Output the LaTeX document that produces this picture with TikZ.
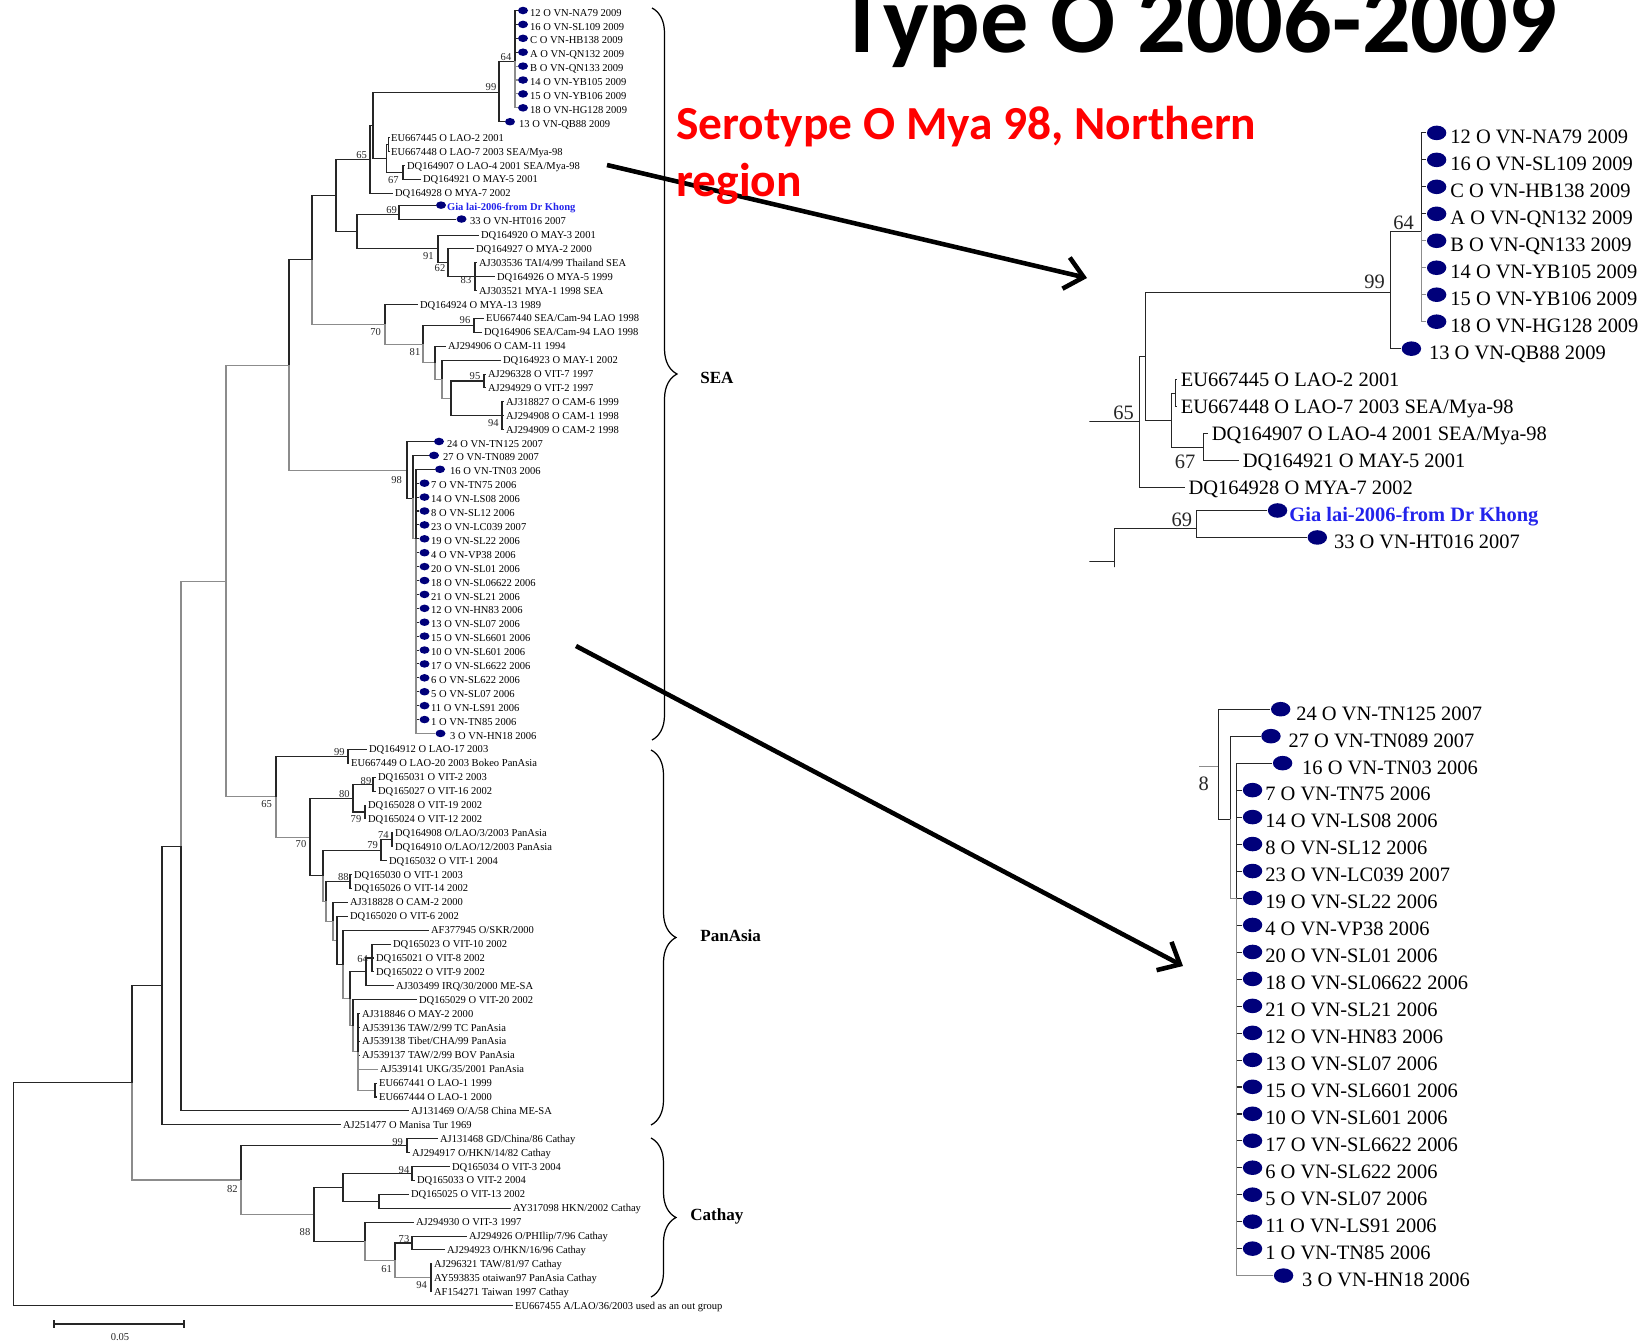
\documentclass[tikz,border=0pt]{standalone}
\usepackage{fontspec}
\setmainfont{Liberation Serif}
\newfontfamily\calibri{Carlito}
\usetikzlibrary{shapes.geometric,arrows.meta,decorations.pathreplacing}

\definecolor{tipblue}{RGB}{0,0,122}
\definecolor{khongblue}{RGB}{35,35,235}
\newcommand\leaffont{\fontsize{6}{7}\selectfont}

\tikzset{
  branch/.style={draw=black!85, line width=0.6pt},
  faint/.style={draw=black!45, line width=0.6pt},
  leaf/.style={anchor=west, inner xsep=1pt, inner ysep=0pt, text height=4pt, text depth=0pt, font=\leaffont},
  boot/.style={inner sep=0pt, font=\leaffont, text=black!85},
  dot/.style={ellipse, fill=tipblue, inner sep=0pt, minimum width=0.2cm, minimum height=0.15cm},
  cladebrace/.style={draw, line width=0.7pt, decorate, decoration={brace, amplitude=0.5cm}},
  cladename/.style={anchor=west, inner sep=0pt, font=\bfseries\fontsize{9.7}{11}\selectfont},
  pointer/.style={line width=2.6pt, -{Straight Barb[length=0.36cm, width=0.64cm]}},
}

% inner nodes of the tree, x in pixels, y in leaf rows
\newcommand\treenodes{%
  \coordinate (root) at (13.3,84.98);
  \coordinate (r1) at (132,76.97);
  \coordinate (r2) at (162,69.97);
  \coordinate (r3) at (181,59.95);
  \coordinate (s0) at (226,40.89);
  \coordinate (s1) at (289,25.38);
  \coordinate (p0) at (312,17.79);
  \coordinate (p1) at (336,13.16);
  \coordinate (n65) at (370,10.56);
  \coordinate (na) at (373,8.125);
  \coordinate (n99) at (499,5.75);
  \coordinate (n64) at (515,3.5);
  \coordinate (nl) at (386.5,10.5);
  \coordinate (neu) at (388.5,9.5);
  \coordinate (n67) at (403,11.5);
  \coordinate (p2) at (357,15.75);
  \coordinate (n69) at (399,14.5);
  \coordinate (n91) at (438,17);
  \coordinate (n62) at (448,18);
  \coordinate (n83) at (475,19);
  \coordinate (n70) at (385,22.42);
  \coordinate (n96) at (474,22.5);
  \coordinate (n81) at (423,23.84);
  \coordinate (q1) at (435,25.19);
  \coordinate (q2) at (442,26.375);
  \coordinate (q3) at (451,27.75);
  \coordinate (n95) at (484,26.5);
  \coordinate (n94) at (502,29);
  \coordinate (n98) at (407,32.97);
  \coordinate (v1) at (413,34.93);
  \coordinate (v2) at (416,37.86);
  \coordinate (pa65) at (276,56.4);
  \coordinate (pa99) at (348,53.5);
  \coordinate (pa70) at (310,59.3);
  \coordinate (pa80) at (353,56.5);
  \coordinate (pa89) at (373,55.5);
  \coordinate (pa79) at (365,57.5);
  \coordinate (u4) at (323,62.09);
  \coordinate (pa79b) at (381,60.25);
  \coordinate (pa74) at (392,59.5);
  \coordinate (u5) at (326,63.93);
  \coordinate (pa88) at (350,62.5);
  \coordinate (u6) at (333,65.37);
  \coordinate (u7) at (337,66.73);
  \coordinate (u8) at (343,68.47);
  \coordinate (u9) at (350,70.94);
  \coordinate (u10) at (366,69);
  \coordinate (pa64) at (372,68);
  \coordinate (u11) at (353,72.875);
  \coordinate (u12) at (358,74.75);
  \coordinate (lao) at (375,77.5);
  \coordinate (ca82) at (241,83.97);
  \coordinate (ca99) at (407,81.5);
  \coordinate (ca88) at (314,86.44);
  \coordinate (cn1) at (343,84.5);
  \coordinate (ca94) at (412,83.5);
  \coordinate (cn2) at (379,85.5);
  \coordinate (cn3) at (365,88.375);
  \coordinate (ca61) at (395,89.75);
  \coordinate (ca73) at (412,88.5);
  \coordinate (ca94b) at (431,91);
}

% Mya-98 group at the top of SEA
\newcommand\seatop{%
  \node[dot] (d0) at (523,-0.15) {}; \node[leaf] (l0) at (528,0) {12 O VN-NA79 2009};
  \node[dot] (d1) at (523,0.85) {}; \node[leaf] (l1) at (528,1) {16 O VN-SL109 2009};
  \node[dot] (d2) at (523,1.85) {}; \node[leaf] (l2) at (528,2) {C O VN-HB138 2009};
  \node[dot] (d3) at (523,2.85) {}; \node[leaf] (l3) at (528,3) {A O VN-QN132 2009};
  \node[dot] (d4) at (523,3.85) {}; \node[leaf] (l4) at (528,4) {B O VN-QN133 2009};
  \node[dot] (d5) at (523,4.85) {}; \node[leaf] (l5) at (528,5) {14 O VN-YB105 2009};
  \node[dot] (d6) at (523,5.85) {}; \node[leaf] (l6) at (528,6) {15 O VN-YB106 2009};
  \node[dot] (d7) at (523,6.85) {}; \node[leaf] (l7) at (528,7) {18 O VN-HG128 2009};
  \node[dot] (d8) at (510,7.85) {}; \node[leaf] (l8) at (517,8) {13 O VN-QB88 2009};
  \node[leaf] (l9) at (389,9) {EU667445 O LAO-2 2001};
  \node[leaf] (l10) at (389,10) {EU667448 O LAO-7 2003 SEA/Mya-98};
  \node[leaf] (l11) at (405,11) {DQ164907 O LAO-4 2001 SEA/Mya-98};
  \node[leaf] (l12) at (421,12) {DQ164921 O MAY-5 2001};
  \node[leaf] (l13) at (393,13) {DQ164928 O MYA-7 2002};
  \node[dot] (d14) at (441,13.85) {}; \node[leaf, text=khongblue, font=\leaffont\bfseries] (l14) at (445,14) {Gia lai-2006-from Dr Khong};
  \node[dot] (d15) at (461.5,14.85) {}; \node[leaf] (l15) at (468,15) {33 O VN-HT016 2007};
  \draw[branch] (p1) |- (n65) (p1) |- (p2);
  \draw[branch] (n65) |- (na) (n65) |- (l13);
  \draw[branch] (na) |- (n99) (na) |- (nl);
  \draw[branch] (n99) |- (n64) (n99) |- (d8);
  \draw[branch] (n64) |- (d0) (n64) |- (d1) (n64) |- (d2) (n64) |- (d3);
  \draw[faint] (n64) |- (d4) (n64) |- (d5) (n64) |- (d6) (n64) |- (d7);
  \draw[branch] (nl) |- (neu) (nl) |- (n67);
  \draw[branch] (neu) |- (l9) (neu) |- (l10);
  \draw[branch] (n67) |- (l11) (n67) |- (l12);
  \draw[branch] (p2) |- (n69) (p2) |- (n91);
  \draw[branch] (n69) |- (d14) (n69) |- (d15);
  \node[boot] (bn64) at (506,3.17) {64};
  \node[boot] (bn99) at (491,5.37) {99};
  \node[boot] (bn65) at (361.7,10.24) {65};
  \node[boot] (bn67) at (393.3,12.04) {67};
  \node[boot] (bn69) at (391.7,14.2) {69};
}

% Vietnam 2006-2007 group
\newcommand\seavn{%
  \node[dot] (d31) at (439,30.85) {}; \node[leaf] (l31) at (445,31) {24 O VN-TN125 2007};
  \node[dot] (d32) at (434,31.85) {}; \node[leaf] (l32) at (441,32) {27 O VN-TN089 2007};
  \node[dot] (d33) at (440,32.85) {}; \node[leaf] (l33) at (448,33) {16 O VN-TN03 2006};
  \node[dot] (d34) at (424.5,33.85) {}; \node[leaf] (l34) at (429,34) {7 O VN-TN75 2006};
  \node[dot] (d35) at (424.5,34.85) {}; \node[leaf] (l35) at (429,35) {14 O VN-LS08 2006};
  \node[dot] (d36) at (424.5,35.85) {}; \node[leaf] (l36) at (429,36) {8 O VN-SL12 2006};
  \node[dot] (d37) at (424.5,36.85) {}; \node[leaf] (l37) at (429,37) {23 O VN-LC039 2007};
  \node[dot] (d38) at (424.5,37.85) {}; \node[leaf] (l38) at (429,38) {19 O VN-SL22 2006};
  \node[dot] (d39) at (424.5,38.85) {}; \node[leaf] (l39) at (429,39) {4 O VN-VP38 2006};
  \node[dot] (d40) at (424.5,39.85) {}; \node[leaf] (l40) at (429,40) {20 O VN-SL01 2006};
  \node[dot] (d41) at (424.5,40.85) {}; \node[leaf] (l41) at (429,41) {18 O VN-SL06622 2006};
  \node[dot] (d42) at (424.5,41.85) {}; \node[leaf] (l42) at (429,42) {21 O VN-SL21 2006};
  \node[dot] (d43) at (424.5,42.85) {}; \node[leaf] (l43) at (429,43) {12 O VN-HN83 2006};
  \node[dot] (d44) at (424.5,43.85) {}; \node[leaf] (l44) at (429,44) {13 O VN-SL07 2006};
  \node[dot] (d45) at (424.5,44.85) {}; \node[leaf] (l45) at (429,45) {15 O VN-SL6601 2006};
  \node[dot] (d46) at (424.5,45.85) {}; \node[leaf] (l46) at (429,46) {10 O VN-SL601 2006};
  \node[dot] (d47) at (424.5,46.85) {}; \node[leaf] (l47) at (429,47) {17 O VN-SL6622 2006};
  \node[dot] (d48) at (424.5,47.85) {}; \node[leaf] (l48) at (429,48) {6 O VN-SL622 2006};
  \node[dot] (d49) at (424.5,48.85) {}; \node[leaf] (l49) at (429,49) {5 O VN-SL07 2006};
  \node[dot] (d50) at (424.5,49.85) {}; \node[leaf] (l50) at (429,50) {11 O VN-LS91 2006};
  \node[dot] (d51) at (424.5,50.85) {}; \node[leaf] (l51) at (429,51) {1 O VN-TN85 2006};
  \node[dot] (d52) at (440.5,51.85) {}; \node[leaf] (l52) at (448,52) {3 O VN-HN18 2006};
  \draw[faint] (s1) |- (n98);
  \draw[branch] (n98) |- (d31) (n98) |- (v1);
  \draw[branch] (v1) |- (d32);
  \draw[faint] (v1) |- (v2);
  \draw[branch] (v2) |- (d33) (v2) |- (d34) (v2) |- (d35) (v2) |- (d36) (v2) |- (d37)
    (v2) |- (d38) (v2) |- (d39) (v2) |- (d40) (v2) |- (d41) (v2) |- (d42) (v2) |- (d43)
    (v2) |- (d44) (v2) |- (d45) (v2) |- (d46) (v2) |- (d47) (v2) |- (d48) (v2) |- (d49)
    (v2) |- (d50) (v2) |- (d51);
  \draw[faint] (v2) |- (d52);
  \node[boot] (bn98) at (396.7,33.61) {98};
}

% the rest of the tree
\newcommand\treerest{%
  \node[leaf] (l16) at (479,16) {DQ164920 O MAY-3 2001};
  \node[leaf] (l17) at (474,17) {DQ164927 O MYA-2 2000};
  \node[leaf] (l18) at (477,18) {AJ303536 TAI/4/99 Thailand SEA};
  \node[leaf] (l19) at (495,19) {DQ164926 O MYA-5 1999};
  \node[leaf] (l20) at (477,20) {AJ303521 MYA-1 1998 SEA};
  \node[leaf] (l21) at (418,21) {DQ164924 O MYA-13 1989};
  \node[leaf] (l22) at (484,22) {EU667440 SEA/Cam-94 LAO 1998};
  \node[leaf] (l23) at (482,23) {DQ164906 SEA/Cam-94 LAO 1998};
  \node[leaf] (l24) at (446,24) {AJ294906 O CAM-11 1994};
  \node[leaf] (l25) at (501,25) {DQ164923 O MAY-1 2002};
  \node[leaf] (l26) at (486,26) {AJ296328 O VIT-7 1997};
  \node[leaf] (l27) at (486,27) {AJ294929 O VIT-2 1997};
  \node[leaf] (l28) at (504,28) {AJ318827 O CAM-6 1999};
  \node[leaf] (l29) at (504,29) {AJ294908 O CAM-1 1998};
  \node[leaf] (l30) at (504,30) {AJ294909 O CAM-2 1998};
  % PanAsia
  \node[leaf] (l53) at (367,53) {DQ164912 O LAO-17 2003};
  \node[leaf] (l54) at (349,54) {EU667449 O LAO-20 2003 Bokeo PanAsia};
  \node[leaf] (l55) at (376,55) {DQ165031 O VIT-2 2003};
  \node[leaf] (l56) at (376,56) {DQ165027 O VIT-16 2002};
  \node[leaf] (l57) at (366,57) {DQ165028 O VIT-19 2002};
  \node[leaf] (l58) at (366,58) {DQ165024 O VIT-12 2002};
  \node[leaf] (l59) at (393,59) {DQ164908 O/LAO/3/2003 PanAsia};
  \node[leaf] (l60) at (393,60) {DQ164910 O/LAO/12/2003 PanAsia};
  \node[leaf] (l61) at (387,61) {DQ165032 O VIT-1 2004};
  \node[leaf] (l62) at (352,62) {DQ165030 O VIT-1 2003};
  \node[leaf] (l63) at (352,63) {DQ165026 O VIT-14 2002};
  \node[leaf] (l64) at (348,64) {AJ318828 O CAM-2 2000};
  \node[leaf] (l65) at (348,65) {DQ165020 O VIT-6 2002};
  \node[leaf] (l66) at (429,66) {AF377945 O/SKR/2000};
  \node[leaf] (l67) at (391,67) {DQ165023 O VIT-10 2002};
  \node[leaf] (l68) at (374,68) {DQ165021 O VIT-8 2002};
  \node[leaf] (l69) at (374,69) {DQ165022 O VIT-9 2002};
  \node[leaf] (l70) at (394,70) {AJ303499 IRQ/30/2000 ME-SA};
  \node[leaf] (l71) at (417,71) {DQ165029 O VIT-20 2002};
  \node[leaf] (l72) at (360,72) {AJ318846 O MAY-2 2000};
  \node[leaf] (l73) at (360,73) {AJ539136 TAW/2/99 TC PanAsia};
  \node[leaf] (l74) at (360,74) {AJ539138 Tibet/CHA/99 PanAsia};
  \node[leaf] (l75) at (360,75) {AJ539137 TAW/2/99 BOV PanAsia};
  \node[leaf] (l76) at (378,76) {AJ539141 UKG/35/2001 PanAsia};
  \node[leaf] (l77) at (377,77) {EU667441 O LAO-1 1999};
  \node[leaf] (l78) at (377,78) {EU667444 O LAO-1 2000};
  \node[leaf] (l79) at (409,79) {AJ131469 O/A/58 China ME-SA};
  \node[leaf] (l80) at (341,80) {AJ251477 O Manisa Tur 1969};
  % Cathay
  \node[leaf] (l81) at (438,81) {AJ131468 GD/China/86 Cathay};
  \node[leaf] (l82) at (410,82) {AJ294917 O/HKN/14/82 Cathay};
  \node[leaf] (l83) at (450,83) {DQ165034 O VIT-3 2004};
  \node[leaf] (l84) at (415,84) {DQ165033 O VIT-2 2004};
  \node[leaf] (l85) at (409,85) {DQ165025 O VIT-13 2002};
  \node[leaf] (l86) at (511,86) {AY317098 HKN/2002 Cathay};
  \node[leaf] (l87) at (414,87) {AJ294930 O VIT-3 1997};
  \node[leaf] (l88) at (467,88) {AJ294926 O/PHIlip/7/96 Cathay};
  \node[leaf] (l89) at (445,89) {AJ294923 O/HKN/16/96 Cathay};
  \node[leaf] (l90) at (432,90) {AJ296321 TAW/81/97 Cathay};
  \node[leaf] (l91) at (432,91) {AY593835 otaiwan97 PanAsia Cathay};
  \node[leaf] (l92) at (432,92) {AF154271 Taiwan 1997 Cathay};
  \node[leaf] (l93) at (513,93) {EU667455 A/LAO/36/2003 used as an out group};
  % branches
  \draw[branch] (root) |- (r1) (root) |- (l93);
  \draw[branch] (r1) |- (r2);
  \draw[faint] (r1) |- (ca82);
  \draw[branch] (r2) |- (r3) (r2) |- (l80);
  \draw[faint] (r3) |- (s0);
  \draw[branch] (r3) |- (l79);
  \draw[faint] (s0) |- (s1) (s0) |- (pa65);
  \draw[branch] (s1) |- (p0);
  \draw[branch] (p0) |- (p1);
  \draw[faint] (p0) |- (n70);
  \draw[branch] (n91) |- (l16) (n91) |- (n62);
  \draw[branch] (n62) |- (l17) (n62) |- (n83);
  \draw[branch] (n83) |- (l18) (n83) |- (l19) (n83) |- (l20);
  \draw[branch] (n70) |- (l21);
  \draw[faint] (n70) |- (n81);
  \draw[branch] (n81) |- (n96);
  \draw[faint] (n81) |- (q1);
  \draw[branch] (n96) |- (l22) (n96) |- (l23);
  \draw[branch] (q1) |- (l24);
  \draw[faint] (q1) |- (q2);
  \draw[branch] (q2) |- (l25);
  \draw[faint] (q2) |- (q3);
  \draw[branch] (q3) |- (n95) (q3) |- (n94);
  \draw[branch] (n95) |- (l26) (n95) |- (l27);
  \draw[branch] (n94) |- (l28) (n94) |- (l29) (n94) |- (l30);
  \draw[branch] (pa65) |- (pa99);
  \draw[faint] (pa65) |- (pa70);
  \draw[branch] (pa99) |- (l53) (pa99) |- (l54);
  \draw[branch] (pa70) |- (pa80) (pa70) |- (u4);
  \draw[branch] (pa80) |- (pa89) (pa80) |- (pa79);
  \draw[branch] (pa89) |- (l55) (pa89) |- (l56);
  \draw[branch] (pa79) |- (l57) (pa79) |- (l58);
  \draw[branch] (u4) |- (pa79b);
  \draw[faint] (u4) |- (u5);
  \draw[branch] (pa79b) |- (pa74) (pa79b) |- (l61);
  \draw[branch] (pa74) |- (l59) (pa74) |- (l60);
  \draw[branch] (u5) |- (pa88);
  \draw[faint] (u5) |- (u6);
  \draw[branch] (pa88) |- (l62) (pa88) |- (l63);
  \draw[branch] (u6) |- (l64);
  \draw[faint] (u6) |- (u7);
  \draw[branch] (u7) |- (l65) (u7) |- (u8);
  \draw[branch] (u8) |- (l66);
  \draw[faint] (u8) |- (u9);
  \draw[branch] (u9) |- (u10);
  \draw[faint] (u9) |- (u11);
  \draw[branch] (u10) |- (pa64) (u10) |- (l70);
  \draw[branch] (pa64) |- (l67) (pa64) |- (l68) (pa64) |- (l69);
  \draw[branch] (u11) |- (l71);
  \draw[faint] (u11) |- (u12);
  \draw[branch] (u12) |- (l72) (u12) |- (l73) (u12) |- (l74) (u12) |- (l75);
  \draw[faint] (u12) |- (l76) (u12) |- (lao);
  \draw[branch] (lao) |- (l77) (lao) |- (l78);
  \draw[branch] (ca82) |- (ca99);
  \draw[faint] (ca82) |- (ca88);
  \draw[branch] (ca99) |- (l81) (ca99) |- (l82);
  \draw[branch] (ca88) |- (cn1) (ca88) |- (cn3);
  \draw[branch] (cn1) |- (ca94) (cn1) |- (cn2);
  \draw[branch] (ca94) |- (l83) (ca94) |- (l84);
  \draw[branch] (cn2) |- (l85) (cn2) |- (l86);
  \draw[branch] (cn3) |- (l87);
  \draw[faint] (cn3) |- (ca61);
  \draw[branch] (ca61) |- (ca73);
  \draw[faint] (ca61) |- (ca94b);
  \draw[branch] (ca73) |- (l88) (ca73) |- (l89);
  \draw[branch] (ca94b) |- (l90) (ca94b) |- (l91) (ca94b) |- (l92);
  % bootstrap values
  \node[boot] (bn91) at (428.3,17.5) {91};
  \node[boot] (bn62) at (440,18.39) {62};
  \node[boot] (bn83) at (466,19.23) {83};
  \node[boot] (bn70) at (375.7,22.99) {70};
  \node[boot] (bn96) at (465,22.1) {96};
  \node[boot] (bn81) at (415,24.39) {81};
  \node[boot] (bn95) at (475,26.13) {95};
  \node[boot] (bn94) at (493.3,29.54) {94};
  \node[boot] (bpa99) at (339.3,53.2) {99};
  \node[boot] (bpa89) at (366,55.26) {89};
  \node[boot] (bpa80) at (344.3,56.22) {80};
  \node[boot] (bpa79) at (356,58.02) {79};
  \node[boot] (bpa65) at (266.7,56.92) {65};
  \node[boot] (bpa70) at (301,59.8) {70};
  \node[boot] (bpa74) at (383.3,59.14) {74};
  \node[boot] (bpa79b) at (372.7,59.9) {79};
  \node[boot] (bpa88) at (343.3,62.2) {88};
  \node[boot] (bpa64) at (362.7,68.06) {64};
  \node[boot] (bca99) at (397.7,81.25) {99};
  \node[boot] (bca82) at (232.3,84.6) {82};
  \node[boot] (bca94) at (404,83.24) {94};
  \node[boot] (bca88) at (305,87.72) {88};
  \node[boot] (bca73) at (404,88.2) {73};
  \node[boot] (bca61) at (386.7,90.36) {61};
  \node[boot] (bca94b) at (421.7,91.56) {94};
}

\begin{document}
\begin{tikzpicture}[x=0.02cm, y=-0.02cm]
  \useasboundingbox (0,0) rectangle (1648,1341);
  \fill[white] (0,0) rectangle (1648,1341);
  \clip (0,0) rectangle (1648,1341);

  % whole tree
  \begin{scope}[y=-0.2781cm, yshift=-0.252cm]
    \treenodes
    \seatop
    \seavn
    \treerest
  \end{scope}

  % clades
  \draw[cladebrace] (652,8) -- (652,740);
  \node[cladename] (sea) at (700,378) {SEA};
  \draw[cladebrace] (651,750) -- (651,1125);
  \node[cladename] (panasia) at (700,936) {PanAsia};
  \draw[cladebrace] (651,1138) -- (651,1297);
  \node[cladename] (cathay) at (690,1216) {Cathay};

  % scale bar
  \draw[branch] (54,1324) -- (184,1324);
  \draw[branch] (54,1320) -- (54,1328) (184,1320) -- (184,1328);
  \node[boot] (barlabel) at (120,1337) {0.05};

  % enlarged top of SEA
  \begin{scope}[shift={(422,112.5)}, scale=1.94, transform shape, name prefix=za-]
    \begin{scope}[y=-0.2781cm, yshift=-0.252cm]
      \clip (344,-1.3) rectangle (650,15.55) (344,15.55) rectangle (420,15.95);
      \treenodes
      \seatop
    \end{scope}
  \end{scope}

  % enlarged Vietnam 2006 group
  \begin{scope}[shift={(429,-147.3)}, scale=1.94, transform shape, name prefix=zb-]
    \begin{scope}[y=-0.2781cm, yshift=-0.252cm]
      \clip (397,30.52) rectangle (560,52.45);
      \treenodes
      \seavn
    \end{scope}
  \end{scope}

  % arrows
  \coordinate (from1) at (607,165);
  \coordinate (to1) at (1087,278);
  \coordinate (from2) at (576,646);
  \coordinate (to2) at (1183,966);
  \draw[pointer] (from1) -- (to1);
  \draw[pointer] (from2) -- (to2);

  % title and note
  \node[anchor=base west, inner sep=0pt, font=\calibri\bfseries\fontsize{54.8}{62}\selectfont] (title) at (838,53) {Type O 2006-2009};
  \node[anchor=base west, inner sep=0pt, text=red, font=\calibri\bfseries\fontsize{27}{31}\selectfont] (serotype) at (676,140) {Serotype O Mya 98, Northern};
  \node[anchor=base west, inner sep=0pt, text=red, font=\calibri\bfseries\fontsize{27}{31}\selectfont] (region) at (676,197) {region};
\end{tikzpicture}
\end{document}
